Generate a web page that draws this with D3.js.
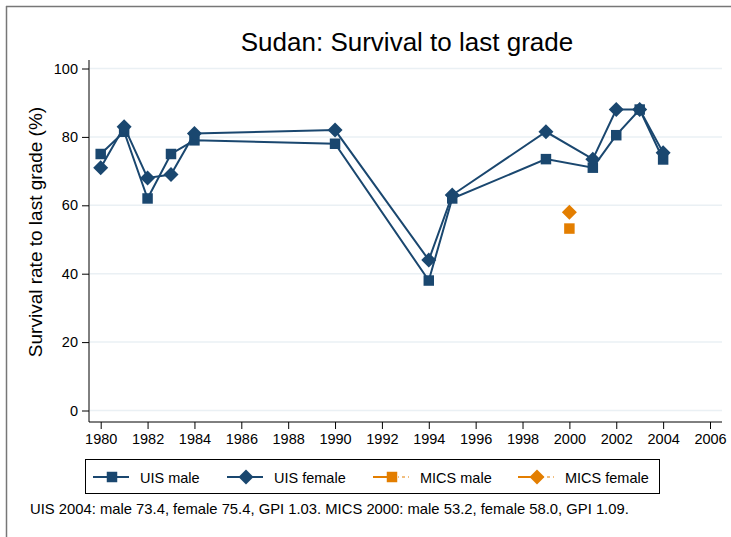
<!DOCTYPE html>
<html><head><meta charset="utf-8">
<script src="https://cdn.jsdelivr.net/npm/d3@7"></script>
<style>body{margin:0;background:#fff}svg{display:block;font-family:"Liberation Sans",Arial,sans-serif}</style>
</head><body><svg id="c" width="731" height="537"></svg>
<script>
const uisYears = [1980,1981,1982,1983,1984,1990,1994,1995,1999,2001,2002,2003,2004];
const uisMale = [75,81.5,62,75,79,78,38,62,73.5,71,80.5,88,73.4];
const uisFemale = [71,83,68,69,81,82,44,63,81.5,73.5,88,88,75.4];
const micsYears = [2000];
const micsMale = [53.2];
const micsFemale = [58.0];
const xTicks = d3.range(1980,2007,2);
const yTicks = [0,20,40,60,80,100];
const title = "Sudan: Survival to last grade";
const yLabel = "Survival rate to last grade (%)";
const note = "UIS 2004: male 73.4, female 75.4, GPI 1.03. MICS 2000: male 53.2, female 58.0, GPI 1.09.";
const legendItems = [
  {label:"UIS male", sym:"square", color:"#1a476f", dash:false},
  {label:"UIS female", sym:"diamond", color:"#1a476f", dash:false},
  {label:"MICS male", sym:"square", color:"#e37e00", dash:true},
  {label:"MICS female", sym:"diamond", color:"#e37e00", dash:true}
];
const navy = "#1a476f", orange = "#e37e00";

const svg = d3.select("#c");
svg.append("line").attr("x1",6).attr("y1",6.5).attr("x2",731).attr("y2",6.5).attr("stroke","#777").attr("stroke-width",1.5);
svg.append("line").attr("x1",6.5).attr("y1",6).attr("x2",6.5).attr("y2",537).attr("stroke","#777").attr("stroke-width",1.5);

const x = d3.scaleLinear().domain([1980,2006]).range([100.7,710]);
const y = d3.scaleLinear().domain([0,100]).range([410.5,68.5]);
const axX0 = 89, axX1 = 722, axY = 422;

svg.append("text").attr("x",407).attr("y",51).attr("text-anchor","middle").attr("font-size",26).attr("fill","#000").text(title);

svg.append("g").selectAll("line").data(yTicks).join("line")
  .attr("x1",axX0+1).attr("x2",axX1).attr("y1",d=>y(d)).attr("y2",d=>y(d))
  .attr("stroke","#eaf0f4").attr("stroke-width",1.5);

const ya = svg.append("g").attr("transform",`translate(${axX0},0)`)
  .call(d3.axisLeft(y).tickValues(yTicks).tickSize(7).tickPadding(4).tickFormat(d3.format("d")));
ya.select(".domain").attr("d",`M0,60V${axY}`).attr("stroke","#000");
ya.selectAll(".tick line").attr("stroke","#000");
ya.selectAll("text").attr("font-size",14.5).attr("font-family","Liberation Sans, Arial, sans-serif").attr("fill","#000");

const xa = svg.append("g").attr("transform",`translate(0,${axY})`)
  .call(d3.axisBottom(x).tickValues(xTicks).tickSize(7).tickPadding(5).tickFormat(d3.format("d")));
xa.select(".domain").attr("d",`M${axX0},0H${axX1}`).attr("stroke","#000");
xa.selectAll(".tick line").attr("stroke","#000");
xa.selectAll("text").attr("font-size",14.5).attr("font-family","Liberation Sans, Arial, sans-serif").attr("fill","#000");

svg.append("text").attr("transform","translate(42,232) rotate(-90)").attr("text-anchor","middle")
  .attr("font-size",19).attr("fill","#000").text(yLabel);

const line = d3.line().x(d=>x(d[0])).y(d=>y(d[1]));
const sq = d3.symbol().type(d3.symbolSquare).size(110);
const wideDiamond = "M0,-7.5L7.5,0L0,7.5L-7.5,0Z";

function series(years, vals, color, marker){
  const pts = years.map((yr,i)=>[yr,vals[i]]);
  if (pts.length>1) svg.append("path").attr("d",line(pts)).attr("fill","none").attr("stroke",color).attr("stroke-width",2);
  svg.append("g").selectAll("path").data(pts).join("path")
    .attr("transform",d=>`translate(${x(d[0])},${y(d[1])})`)
    .attr("d", marker==="square" ? sq() : wideDiamond).attr("fill",color);
}
series(uisYears, uisMale, navy, "square");
series(uisYears, uisFemale, navy, "diamond");
series(micsYears, micsMale, orange, "square");
series(micsYears, micsFemale, orange, "diamond");

svg.append("rect").attr("x",85.5).attr("y",459.5).attr("width",574).attr("height",34).attr("fill","#fff").attr("stroke","#000").attr("stroke-width",1);
const legX = [93, 227, 373, 518];
const lg = svg.append("g").selectAll("g").data(legendItems).join("g").attr("transform",(d,i)=>`translate(${legX[i]},477)`);
lg.each(function(d){
  const g = d3.select(this);
  if (!d.dash){
    g.append("line").attr("x1",0).attr("x2",36).attr("stroke",d.color).attr("stroke-width",2);
  } else {
    g.append("line").attr("x1",0).attr("x2",19).attr("stroke",d.color).attr("stroke-width",2);
    g.append("line").attr("x1",19).attr("x2",36).attr("stroke",d.color).attr("stroke-width",1.2).attr("stroke-dasharray","3,3,1,3");
  }
  g.append("path").attr("transform","translate(19,0)").attr("d", d.sym==="square"?sq():wideDiamond).attr("fill",d.color);
  g.append("text").attr("x",47).attr("y",5.5).attr("font-size",14.5).attr("fill","#000").text(d.label);
});

svg.append("text").attr("x",30).attr("y",514).attr("font-size",14.8).attr("fill","#000").text(note);
</script></body></html>
